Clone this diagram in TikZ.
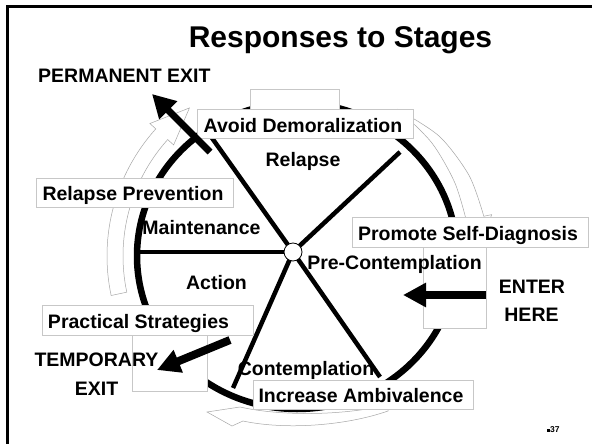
\documentclass[tikz,border=0pt]{standalone}
\usepackage{fontspec}
\setmainfont{Liberation Sans}
\usetikzlibrary{arrows.meta}
\begin{document}
\begin{tikzpicture}[x=1pt,y=-1pt,
  lbl/.style={font=\fontsize{19.5}{22}\selectfont\bfseries, inner sep=0pt, anchor=base},
  tbox/.style={draw=black!22, line width=0.8pt, fill=white, inner sep=0pt},
  ghost/.style={draw=black!35, line width=0.5pt, fill=white},
  spoke/.style={line width=4.5pt},
  bigarrow/.style={line width=8pt, -{Triangle[length=23pt,width=23pt]}},
]
\clip (0,0) rectangle (592,444);
\fill[white] (0,0) rectangle (592,444);
% slide frame
\draw[line width=3pt] (7.5,460) -- (7.5,6.5) -- (610,6.5);

% title
\node[font=\fontsize{30}{34}\selectfont\bfseries, anchor=base, inner sep=0pt] (title) at (340.5,48) {Responses to Stages};

% hollow cycle arrows around the wheel
\begin{scope}[shift={(297,256)}]
  % left: climbing from Action towards Relapse
  \draw[ghost] (168:190) arc[start angle=168, end angle=222, radius=190]
    -- (222:198) -- (234:183) -- (222:166) -- (222:174)
    arc[start angle=222, end angle=168, radius=174] -- cycle;
  % upper right: from Relapse down to Pre-Contemplation
  \draw[ghost] plot[smooth] coordinates {(305:178) (320:186) (335:190) (348:191)}
    -- (348:199) -- (359:181) -- (348:163) -- (348:173)
    -- plot[smooth] coordinates {(348:173) (335:174) (320:176) (305:178)} -- cycle;
\end{scope}
% bottom: from Contemplation towards Action
\draw[ghost] (388,405) .. controls (340,416) and (280,416) .. (240,407)
  -- (207,412) -- (232,426) -- (243,421)
  .. controls (285,430) and (345,426) .. (388,411) -- cycle;

% the wheel
\draw[line width=6.5pt] (297,256) ellipse [x radius=160, y radius=153];

% stage names
\node[lbl] (relapse) at (303,166) {Relapse};
\node[lbl] (maint) at (201.5,234) {Maintenance};
\node[lbl] (action) at (216.5,289) {Action};
\node[lbl] (contemp) at (306,375) {Contemplation};

% spokes
\coordinate (hub) at (293,252);
\coordinate (sUL) at (212,138);
\coordinate (sUR) at (400,152);
\coordinate (sL) at (138,252);
\coordinate (sLL) at (233,388);
\coordinate (sLR) at (380,377);
\foreach \e in {sUL,sUR,sL,sLL,sLR} \draw[spoke] (hub) -- (\e);
\node[circle, draw, fill=white, minimum size=18pt, inner sep=0pt, line width=0.8pt] (hubc) at (hub) {};

% response boxes
\node[tbox, minimum width=89pt, minimum height=20pt] (topbox) at (294.5,99) {};
\node[tbox, minimum width=216pt, minimum height=29pt] (avoidbox) at (305,123.5) {};
\node[tbox, minimum width=197pt, minimum height=29pt] (rpbox) at (134.5,192.5) {};
\node[tbox, minimum width=236pt, minimum height=30pt] (promobox) at (470,232) {};
\node[tbox, minimum width=63pt, minimum height=81pt] (enterbox) at (454.5,287.5) {};
\node[tbox, minimum width=211pt, minimum height=30pt] (psbox) at (147.5,320) {};
\node[tbox, minimum width=75pt, minimum height=56pt] (tempbox) at (169.5,363) {};
\node[tbox, minimum width=220pt, minimum height=29pt] (ambbox) at (363,394.5) {};

\node[lbl] (avoid) at (303,132) {Avoid Demoralization};
\node[lbl] (rp) at (133,200) {Relapse Prevention};
\node[lbl] (promo) at (468,240) {Promote Self-Diagnosis};
\node[lbl] (ps) at (138.5,328) {Practical Strategies};
\node[lbl] (amb) at (361,402) {Increase Ambivalence};
\node[lbl] (precon) at (394.5,269) {Pre-Contemplation};

% entry and exit arrows
\coordinate (enterTail) at (486,295);
\coordinate (enterTip) at (403,295);
\draw[bigarrow] (enterTail) -- (enterTip);
\coordinate (tempTail) at (230,340);
\coordinate (tempTip) at (157,370);
\draw[bigarrow] (tempTail) -- (tempTip);
\coordinate (permTail) at (210,152);
\coordinate (permTip) at (152,94);
\draw[line width=7pt, -{Triangle[length=23pt,width=24pt]}] (permTail) -- (permTip);

\node[lbl] (enter) at (532,293) {ENTER};
\node[lbl] (here) at (531.5,321) {HERE};
\node[lbl] (temp) at (96.5,366) {TEMPORARY};
\node[lbl] (exit) at (96.5,395) {EXIT};
\node[lbl, anchor=base west] (perm) at (38,82) {PERMANENT EXIT};

% slide number
\node[font=\fontsize{8.5}{10}\selectfont\bfseries, anchor=base west, inner sep=0pt] (num) at (547,432) {\rule[0.5pt]{3pt}{3pt}37};
\end{tikzpicture}
\end{document}
